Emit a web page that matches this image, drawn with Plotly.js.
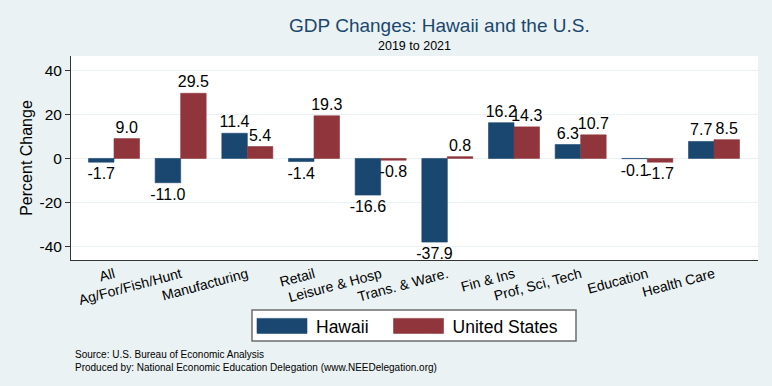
<!DOCTYPE html>
<html>
<head>
<meta charset="utf-8">
<script src="https://cdn.plot.ly/plotly-3.0.1.min.js"></script>
<style>html,body{margin:0;padding:0;background:#eaf2f3;}#chart{width:772px;height:386px;}</style>
</head>
<body>
<div id="chart"></div>
<script>
const categories = ["All", "Ag/For/Fish/Hunt", "Manufacturing", "Retail", "Leisure & Hosp",
  "Trans. & Ware.", "Fin & Ins", "Prof, Sci, Tech", "Education", "Health Care"];
const hawaii = [-1.7, -11.0, 11.4, -1.4, -16.6, -37.9, 16.2, 6.3, -0.1, 7.7];
const unitedStates = [9.0, 29.5, 5.4, 19.3, -0.8, 0.8, 14.3, 10.7, -1.7, 8.5];
const yTicks = [-40, -20, 0, 20, 40];

const font = "Liberation Sans, Arial, Helvetica, sans-serif";

// plot area geometry (px) used to convert page positions to paper coords
const PL = 71, PW = 687, PB = 260, PH = 204;
const px2x = px => (px - PL) / PW;
const py2y = py => (PB - py) / PH;

function barTrace(name, vals, color) {
  return {
    type: "bar", name: name, x: categories, y: vals,
    marker: {color: color, line: {color: color, width: 0.6}},
    text: vals.map(v => v.toFixed(1)),
    textposition: "outside", constraintext: "none", cliponaxis: false,
    textfont: {family: font, size: 16, color: "#000"},
    hoverinfo: "x+y"
  };
}

const data = [
  barTrace("Hawaii", hawaii, "#1a476f"),
  barTrace("United States", unitedStates, "#90353b")
];

const layout = {
  width: 772, height: 386,
  paper_bgcolor: "#eaf2f3", plot_bgcolor: "#ffffff",
  margin: {l: 71, r: 14, t: 56, b: 126},
  font: {family: font, color: "#000"},
  barmode: "group", bargap: 0.235, bargroupgap: 0,
  title: {text: "GDP Changes: Hawaii and the U.S.", font: {family: font, size: 19, color: "#1a476f"},
    x: 414/772, xanchor: "center", xref: "paper", yref: "container", y: 1 - 25/386, yanchor: "middle"},
  xaxis: {
    type: "category", range: [-0.645, 9.66], tickangle: -15,
    tickfont: {family: font, size: 14, color: "#000"},
    showline: true, linecolor: "#333", linewidth: 1, ticks: "", showgrid: false, fixedrange: true
  },
  yaxis: {
    range: [-46, 46.4], tickvals: yTicks, ticktext: yTicks.map(String),
    tickfont: {family: font, size: 15.5, color: "#000"},
    ticks: "outside", ticklen: 5, tickcolor: "#333",
    showline: true, linecolor: "#333", linewidth: 1,
    showgrid: true, gridcolor: "#eaf2f3", gridwidth: 1, zeroline: false,
    title: {text: "Percent Change", font: {family: font, size: 16, color: "#000"}, standoff: 2},
    fixedrange: true
  },
  showlegend: true,
  legend: {
    orientation: "h", x: 237/772, xref: "container", xanchor: "left",
    yref: "container", y: 1 - 326/386, yanchor: "middle",
    bgcolor: "rgba(0,0,0,0)", borderwidth: 0,
    font: {family: font, size: 17.5, color: "#000"},
    itemwidth: 69, traceorder: "normal"
  },
  shapes: [
    {type: "rect", xref: "paper", yref: "paper", layer: "above",
     x0: px2x(252), x1: px2x(576), y0: py2y(310), y1: py2y(341),
     fillcolor: "#ffffff", line: {color: "#6e6e6e", width: 1.5}}
  ],
  annotations: [
    {text: "2019 to 2021", xref: "paper", yref: "paper", x: 0.5, y: 1 + (56-46)/204, yanchor: "middle",
     showarrow: false, font: {family: font, size: 12.5, color: "#000"}},
    {text: "Source: U.S. Bureau of Economic Analysis<br>Produced by: National Economic Education Delegation (www.NEEDelegation.org)",
     xref: "paper", yref: "paper", x: 2/687, xanchor: "left", align: "left",
     y: -(347-260)/204, yanchor: "top", showarrow: false,
     font: {family: font, size: 10, color: "#000"}}
  ]
};

Plotly.newPlot("chart", data, layout, {displayModeBar: false, staticPlot: true}).then(function(gd) {
  gd.querySelectorAll(".legend .traces").forEach(function(g) {
    const txt = g.querySelector("text.legendtext");
    const p = g.querySelector(".legendpoints path");
    if (!txt || !p) return;
    p.setAttribute("d", "M25,7.5H-25V-7.5H25Z");
    p.setAttribute("transform", "translate(0,0)");
    const tr = txt.getBoundingClientRect();
    const pr = p.getBoundingClientRect();
    const dx = (tr.left - 9 - 50) - pr.left;
    p.setAttribute("transform", "translate(" + dx + ",0)");
  });
});
</script>
</body>
</html>
